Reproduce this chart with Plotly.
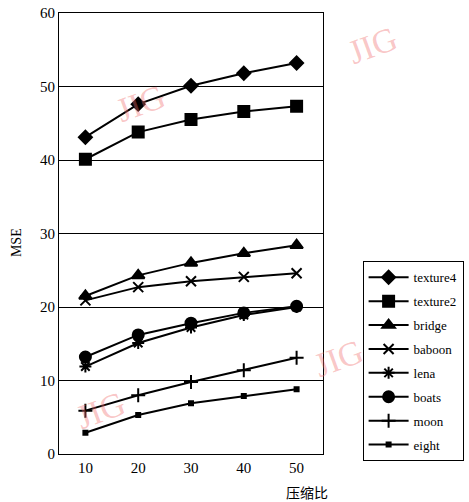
import plotly.graph_objects as go

ratios = [10, 20, 30, 40, 50]
texture4 = [43.1, 47.6, 50.1, 51.8, 53.2]
texture2 = [40.1, 43.8, 45.5, 46.6, 47.3]
bridge = [21.5, 24.3, 26.0, 27.3, 28.4]
baboon = [20.9, 22.7, 23.5, 24.1, 24.6]
lena = [11.9, 15.1, 17.2, 18.9, 20.0]
boats = [13.2, 16.2, 17.8, 19.2, 20.1]
moon = [5.9, 8.0, 9.8, 11.4, 13.1]
eight = [2.9, 5.3, 6.9, 7.9, 8.8]

series = [
    ("texture4", texture4, "diamond", 10),
    ("texture2", texture2, "square", 11),
    ("bridge", bridge, "triangle-up", 11),
    ("baboon", baboon, "x-thin-open", 10),
    ("lena", lena, "asterisk-open", 10),
    ("boats", boats, "circle", 11),
    ("moon", moon, "cross-thin-open", 10),
    ("eight", eight, "square", 4),
]

fig = go.Figure()
for name, vals, sym, sz in series:
    fig.add_trace(go.Scatter(
        x=ratios, y=vals, name=name, mode="lines+markers", legendgroup=name,
        line=dict(color="black", width=2),
        marker=dict(symbol=sym, size=sz, color="black",
                    line=dict(color="black", width=2)),
    ))

serif = "Liberation Serif"
tickfont = dict(family=serif, size=15, color="black")
fig.update_layout(
    width=469, height=502,
    margin=dict(l=59, r=146, t=13, b=48, autoexpand=False),
    paper_bgcolor="white", plot_bgcolor="white",
    font=dict(family=serif, color="black", size=13),
    showlegend=True,
    legend=dict(x=1.15, y=0.437, xanchor="left", yanchor="top",
                bordercolor="black", borderwidth=1, bgcolor="white",
                font=dict(family=serif, size=13, color="black"), tracegroupgap=4,
                itemwidth=40),
    xaxis=dict(range=[5, 55], tickvals=ratios, showgrid=False, automargin=False,
               showline=True, linecolor="black", mirror=True, linewidth=1,
               ticks="", zeroline=False, tickfont=tickfont),
    yaxis=dict(range=[0, 60], tickvals=[0, 10, 20, 30, 40, 50, 60], automargin=False,
               showgrid=True, gridcolor="black", gridwidth=1,
               showline=True, linecolor="black", mirror=True, linewidth=1,
               ticks="", zeroline=False, tickfont=tickfont),
)

fig.add_annotation(text="MSE", xref="paper", yref="paper", x=-0.16, y=0.48,
                   xanchor="center", yanchor="middle",
                   textangle=-90, showarrow=False,
                   font=dict(family=serif, size=14, color="black"))
fig.add_annotation(text="压缩比", xref="paper", yref="paper", x=1.025, y=-0.06,
                   xanchor="right", yanchor="top", showarrow=False,
                   font=dict(family="Noto Sans CJK SC", size=14, color="black"))

for (px, py) in [(140, 103), (372, 45), (338, 358), (100, 410)]:
    fig.add_annotation(text="JIG", xref="paper", yref="paper",
                       x=(px - 59) / 264, y=(454 - py) / 441,
                       xanchor="center", yanchor="middle",
                       showarrow=False, textangle=-20,
                       font=dict(family=serif, size=34, color="rgba(240,110,110,0.4)"))

fig.write_html("out.html", config={"displayModeBar": False},
               post_script="document.body.style.margin='0';")
